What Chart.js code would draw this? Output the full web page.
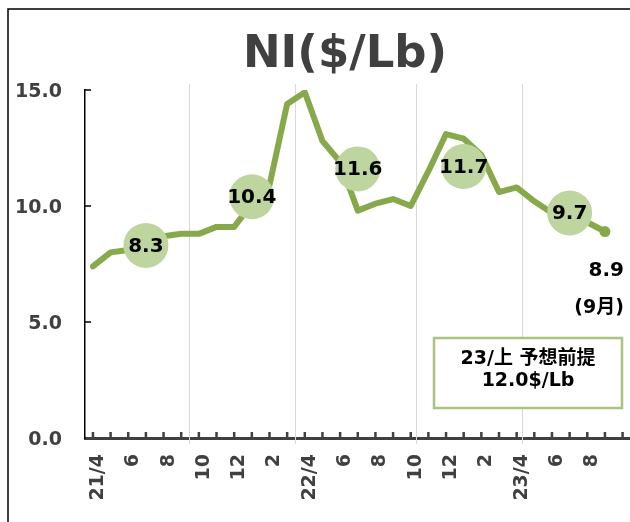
<!DOCTYPE html>
<html>
<head>
<meta charset="utf-8">
<script src="https://cdn.jsdelivr.net/npm/chart.js@4/dist/chart.umd.min.js"></script>
<style>
  html, body { margin: 0; padding: 0; background: #fff; overflow: hidden; }
  #niChart { display: block; }
</style>
</head>
<body>
<canvas id="niChart" width="630" height="522"></canvas>
<script>
// monthly labels, 21/4 .. 23/10 (last one is an empty slot)
var months = ['21/4','','6','','8','','10','','12','','2','',
              '22/4','','6','','8','','10','','12','','2','',
              '23/4','','6','','8','',''];

// monthly NI price ($/Lb)
var nickel = [7.4, 8.0, 8.1, 8.5, 8.7, 8.8, 8.8, 9.1, 9.1, 10.1, 10.9, 14.4,
              14.9, 12.8, 11.9, 9.8, 10.1, 10.3, 10.0, 11.5, 13.1, 12.9,
              12.2, 10.6, 10.8, 10.2, 9.7, 9.6, 9.3, 8.9];

// half-year averages, shown on the middle month of each half
var halfIdx = [3, 9, 15, 21, 27];
var halfAvg = [8.3, 10.4, 11.6, 11.7, 9.7];

var yTicks = [0, 5, 10, 15];
var halfLines = [5.45, 11.45, 18.3, 24.3];

var titleText = 'NI($/Lb)';
var lastNote = '(9月)';
var boxLines = ['23/上 予想前提', '12.0$/Lb'];

var FONT = "'DejaVu Sans', 'Noto Sans CJK JP', sans-serif";
var lineColor = '#87a94b';
var circleColor = '#bfd5a0';

var extras = {
  id: 'extras',
  beforeDatasetsDraw: function(chart) {
    var ctx = chart.ctx, x = chart.scales.x;
    ctx.save();
    ctx.strokeStyle = '#d9d9d9';
    ctx.lineWidth = 1;
    for (var i = 0; i < halfLines.length; i++) {
      var px = Math.round(x.getPixelForValue(halfLines[i])) + 0.5;
      ctx.beginPath();
      ctx.moveTo(px, chart.chartArea.top - 6);
      ctx.lineTo(px, chart.chartArea.bottom + 6);
      ctx.stroke();
    }
    ctx.restore();
  },
  afterDatasetsDraw: function(chart) {
    var ctx = chart.ctx, x = chart.scales.x, y = chart.scales.y;
    var area = chart.chartArea;
    ctx.save();

    // tick marks on the axes (inside)
    ctx.strokeStyle = '#404040';
    ctx.lineWidth = 2.5;
    for (var i = 0; i < months.length; i++) {
      var px = x.getPixelForValue(i);
      ctx.beginPath();
      ctx.moveTo(px, area.bottom);
      ctx.lineTo(px, area.bottom - 6);
      ctx.stroke();
    }
    ctx.strokeStyle = '#000';
    ctx.lineWidth = 1.5;
    for (var j = 1; j < yTicks.length; j++) {
      var py = y.getPixelForValue(yTicks[j]);
      ctx.beginPath();
      ctx.moveTo(area.left, py);
      ctx.lineTo(area.left + 6, py);
      ctx.stroke();
    }

    // labels on the circles
    ctx.fillStyle = '#000';
    ctx.font = 'bold 20px ' + FONT;
    ctx.textAlign = 'center';
    ctx.textBaseline = 'middle';
    var circles = chart.getDatasetMeta(1).data;
    for (var k = 0; k < circles.length; k++) {
      ctx.fillText(halfAvg[k].toFixed(1), circles[k].x, circles[k].y + 1);
    }

    // last value
    var pts = chart.getDatasetMeta(0).data;
    var last = pts[pts.length - 1];
    ctx.textAlign = 'right';
    ctx.fillText(nickel[nickel.length - 1].toFixed(1), last.x + 19, last.y + 39);
    ctx.font = 'bold 19px ' + FONT;
    ctx.fillText(lastNote, last.x + 19, last.y + 77);

    // forecast box
    ctx.fillStyle = '#fff';
    ctx.fillRect(434, 338, 188, 70);
    ctx.strokeStyle = '#a9c47f';
    ctx.lineWidth = 2.5;
    ctx.strokeRect(434, 338, 188, 70);
    ctx.fillStyle = '#000';
    ctx.textAlign = 'center';
    ctx.font = 'bold 19px ' + FONT;
    ctx.fillText(boxLines[0], 528, 359);
    ctx.fillText(boxLines[1], 528, 381);

    // title
    ctx.fillStyle = '#404040';
    ctx.font = 'bold 45px ' + FONT;
    ctx.fillText(titleText, 345, 55);

    // frame
    ctx.strokeStyle = '#000';
    ctx.lineWidth = 1.5;
    ctx.beginPath();
    ctx.moveTo(8, 522);
    ctx.lineTo(8, 9);
    ctx.lineTo(630, 9);
    ctx.stroke();

    ctx.restore();
  }
};

var ctx = document.getElementById('niChart');

var niChart = new Chart(ctx, {
  type: 'line',
  data: {
    datasets: [{
      label: 'NI',
      data: nickel.map(function(v, i) { return {x: i, y: v}; }),
      borderColor: lineColor,
      borderWidth: 6,
      borderJoinStyle: 'round',
      borderCapStyle: 'round',
      tension: 0,
      pointRadius: function(c) { return c.dataIndex === nickel.length - 1 ? 5.5 : 0; },
      pointBackgroundColor: lineColor,
      pointBorderWidth: 0,
      order: 1
    }, {
      label: 'half',
      data: halfIdx.map(function(v, i) { return {x: v, y: halfAvg[i]}; }),
      showLine: false,
      pointRadius: 22.5,
      pointBackgroundColor: circleColor,
      pointBorderWidth: 0,
      order: 0
    }]
  },
  options: {
    responsive: false,
    animation: false,
    devicePixelRatio: 1,
    events: [],
    layout: { autoPadding: false, padding: { top: 90, left: 0, right: 0, bottom: 0 } },
    plugins: {
      legend: { display: false },
      tooltip: { enabled: false },
      title: { display: false }
    },
    scales: {
      x: {
        type: 'linear',
        min: -0.45,
        max: 30.42,
        afterBuildTicks: function(s) {
          s.ticks = months.map(function(_, i) { return {value: i}; });
        },
        afterFit: function(s) {
          s.height = 84;
          s.paddingLeft = 0;
          s.paddingRight = 0;
        },
        grid: { display: false, drawTicks: false },
        border: { display: true, color: '#404040', width: 3 },
        ticks: {
          autoSkip: false,
          maxRotation: 90,
          minRotation: 90,
          padding: 16,
          labelOffset: 5,
          color: '#404040',
          font: { family: FONT, size: 19, weight: 'bold' },
          callback: function(v) { return months[v] || ''; }
        }
      },
      y: {
        min: 0,
        max: 15,
        afterBuildTicks: function(s) {
          s.ticks = yTicks.map(function(v) { return {value: v}; });
        },
        afterFit: function(s) {
          s.width = 85;
          s.paddingTop = 0;
          s.paddingBottom = 0;
        },
        grid: { display: false, drawTicks: false },
        border: { display: true, color: '#000', width: 1.5 },
        ticks: {
          padding: 23,
          labelOffset: 2,
          color: '#404040',
          font: { family: FONT, size: 19, weight: 'bold' },
          callback: function(v) { return v.toFixed(1); }
        }
      }
    }
  },
  plugins: [extras]
});
</script>
</body>
</html>
